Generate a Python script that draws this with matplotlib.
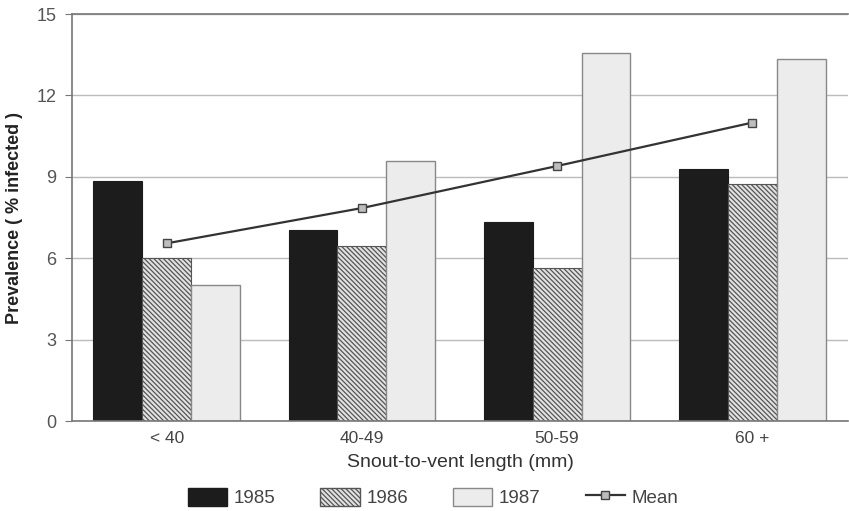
import matplotlib
matplotlib.use("Agg")
import numpy as np
from matplotlib import pyplot as plt
from matplotlib.patches import Patch
from matplotlib.lines import Line2D

categories = ["< 40", "40-49", "50-59", "60 +"]
years = ["1985", "1986", "1987"]
vals_1985 = [8.85, 7.05, 7.35, 9.3]
vals_1986 = [6.0, 6.45, 5.65, 8.75]
vals_1987 = [5.0, 9.6, 13.55, 13.35]
vals_mean = [6.55, 7.85, 9.4, 11.0]
y_ticks = [0, 3, 6, 9, 12, 15]

plt.rcParams['font.family'] = ['Liberation Sans', 'DejaVu Sans']
plt.rcParams['hatch.linewidth'] = 0.9
plt.rcParams['hatch.color'] = "#555555"

fig = plt.figure(figsize=(8.49, 5.11), dpi=100)
ax = fig.add_axes([0.0848, 0.176, 0.914, 0.7965])

hatch = "\\" * 7
x = np.arange(len(categories))
w = 0.25
ax.bar(x - w, vals_1985, w, color="#1c1c1c", edgecolor="#1c1c1c", linewidth=0.8, zorder=2)
ax.bar(x, vals_1986, w, color="#e2e2e2", edgecolor="#555555", hatch=hatch, linewidth=0.8, zorder=2)
ax.bar(x + w, vals_1987, w, color="#ececec", edgecolor="#888888", linewidth=1.0, zorder=2)
ax.plot(x, vals_mean, color="#333333", lw=1.6, marker="s", ms=6, mfc="#bdbdbd", mec="#444444", zorder=3)

ax.set_xlim(-0.485, 3.49)
ax.set_ylim(0, 15)
ax.set_yticks(y_ticks)
ax.set_xticks(x)
ax.set_xticklabels(categories)
ax.yaxis.grid(True, color="#bbbbbb", lw=1.0, zorder=0)
ax.tick_params(axis="y", length=5, color="#777777", labelsize=13, labelcolor="#555555", pad=6)
ax.tick_params(axis="x", length=0, labelsize=12.5, labelcolor="#444444", pad=7)
ax.spines["right"].set_visible(False)
for s in ["left", "top", "bottom"]:
    ax.spines[s].set_color("#777777")
    ax.spines[s].set_linewidth(1.2)

ax.set_ylabel("Prevalence ( % infected )", fontsize=13, fontweight="bold", color="#222222", labelpad=10)
ax.set_xlabel("Snout-to-vent length (mm)", fontsize=14, color="#333333", labelpad=6)

handles = [
    Patch(facecolor="#1c1c1c", edgecolor="#1c1c1c", label=years[0]),
    Patch(facecolor="#e2e2e2", edgecolor="#555555", hatch=hatch, label=years[1]),
    Patch(facecolor="#ececec", edgecolor="#888888", label=years[2]),
    Line2D([0], [0], color="#333333", lw=1.6, marker="s", ms=6, mfc="#bdbdbd", mec="#444444", label="Mean"),
]
fig.legend(handles=handles, loc="lower center", bbox_to_anchor=(0.51, -0.025), ncol=4, frameon=False,
           fontsize=13.5, handlelength=2.1, handleheight=1.1, handletextpad=0.35, columnspacing=2.4,
           labelcolor="#444444")

fig.savefig("out.png", dpi=100)
